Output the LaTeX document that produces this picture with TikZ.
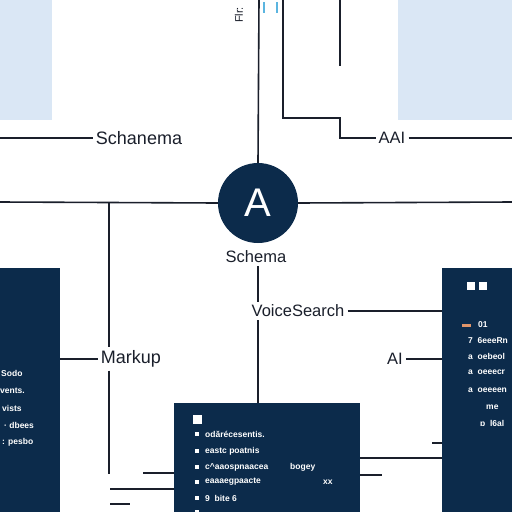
\documentclass[tikz,border=0pt]{standalone}
\usepackage{fontspec}
\setmainfont{Liberation Sans}
\definecolor{navy}{HTML}{0C2B4B}
\definecolor{pale}{HTML}{DAE7F5}
\definecolor{ink}{HTML}{1A1F2B}
\definecolor{sky}{HTML}{5BB5E0}
\definecolor{tan}{HTML}{E0956A}
\begin{document}
\begin{tikzpicture}[x=1pt,y=-1pt,
  conn/.style={draw=ink,line width=1.6pt},
  lbl/.style={font=\fontsize{16.5}{18}\selectfont,text=ink,inner sep=3pt},
  biglbl/.style={lbl,font=\fontsize{18}{20}\selectfont},
  hub/.style={circle,fill=navy,minimum size=80pt,inner sep=0pt,text=white,font=\fontsize{40}{40}\selectfont},
  panel/.style={fill=navy,anchor=north west,inner sep=0pt},
  tiny/.style={font=\fontsize{8.5}{9}\selectfont\bfseries,text=white,anchor=west,inner sep=0pt},
  bul/.style={fill=white,minimum size=4pt,inner sep=0pt},
  sq/.style={fill=white,minimum size=8pt,inner sep=0pt,anchor=north west}]
\useasboundingbox (0,0) rectangle (512,512);
\fill[white] (0,0) rectangle (512,512);
% pale blue blocks
\fill[pale] (0,0) rectangle (52,120);
\fill[pale] (398,0) rectangle (512,120);
% top bits
\node[rotate=90,font=\fontsize{11}{11}\selectfont,text=ink,inner sep=0pt] (glyph) at (239,15) {Flr:};
\draw[sky,line width=1.4pt] (264,2) -- (264,13) (277,2) -- (277,13);
% panels
\node[panel,minimum width=60pt,minimum height=244pt] (lpanel) at (0,268) {};
\node[panel,minimum width=70pt,minimum height=244pt] (rpanel) at (442,268) {};
\node[panel,minimum width=186pt,minimum height=110pt] (bpanel) at (174,403) {};
% labels
\node[hub] (hub) at (258,203) {A};
\node[biglbl] (schanema) at (139,138) {Schanema};
\node[lbl] (aai) at (392,138) {AAI};
\node[lbl] (schema) at (256,257) {Schema};
\node[lbl] (voice) at (298,311) {VoiceSearch};
\node[biglbl] (markup) at (131,359) {Markup};
\node[lbl] (ai) at (395,359) {AI};
% free-end coordinates
\coordinate (t1) at (259,0);
\coordinate (t2) at (283,0);
\coordinate (t3) at (340,0);
\coordinate (t3e) at (340,66);
\coordinate (e1) at (0,138);
\coordinate (e2) at (512,138);
\coordinate (h0) at (0,202);
\coordinate (h1) at (512,202);
\coordinate (vx) at (109,202);
\coordinate (vxe) at (109,474);
% connectors
\draw[conn] (t1) -- (hub.north);
\draw[conn] (t2) |- (340,118) |- (aai.west);
\draw[conn] (aai.east) -- (e2);
\draw[conn] (e1) -- (schanema.west);
\draw[conn] (t3) -- (t3e);
\draw[conn] (h0) -- (hub.west);
\draw[conn] (hub.east) -- (h1);
\draw[conn] (vx) -- (markup.north -| vx);
\draw[conn] (markup.south -| vx) -- (vxe);
\draw[conn] (schema.south -| hub) -- (voice.north -| hub);
\draw[conn] (voice.south -| hub) -- (bpanel.north -| hub);
\draw[conn] (voice.east) -- (voice.east -| rpanel.west);
\draw[conn] (ai.east) -- (ai.east -| rpanel.west);
\draw[conn] (markup.west -| lpanel.east) -- (markup.west);
% bottom stubs
\draw[conn] (143,473) -- (143,473 -| bpanel.west);
\draw[conn] (110,489) -- (110,489 -| bpanel.west);
\draw[conn] (110,504) -- (130,504);
\draw[conn] (bpanel.east |- 0,458) -- (rpanel.west |- 0,458);
\draw[conn] (bpanel.east |- 0,475) -- (382,475);
\draw[conn] (432,443) -- (rpanel.west |- 0,443);
% left panel text
\node[tiny] (l1) at (1,373) {Sodo};
\node[tiny] (l2) at (0,391) {vents.};
\node[tiny] (l3) at (2,408) {vists};
\node[tiny] (l4) at (4,425) {· dbees};
\node[tiny] (l5) at (2,442) {: pesbo};
% right panel contents
\node[sq] (s1) at (467,282) {};
\node[sq] (s2) at (479,282) {};
\fill[tan] (462,324) rectangle (471,327);
\node[tiny] (r0) at (478,325) {01};
\node[tiny] (r1) at (468,341) {7 \ 6eeeRn};
\node[tiny] (r2) at (468,356) {a \ oebeol};
\node[tiny] (r3) at (468,372) {a \ oeeecr};
\node[tiny] (r4) at (468,390) {a \ oeeeen};
\node[tiny] (r5) at (486,407) {me};
\node[tiny] (r6) at (480,423) {ɒ \ l6al};
% bottom panel contents
\node[sq,minimum size=9pt] (s3) at (193,415) {};
\node[bul] (b1) at (197,434) {};
\node[bul] (b2) at (197,451) {};
\node[bul] (b3) at (197,467) {};
\node[bul] (b4) at (197,482) {};
\node[bul] (b5) at (197,498) {};
\node[bul] (b6) at (197,512) {};
\node[tiny] (m1) at (205,434) {odărécesentis.};
\node[tiny] (m2) at (205,451) {eastc poatnis};
\node[tiny] (m3) at (205,467) {c\textasciicircum aaospnaacea};
\node[tiny] (m4) at (205,482) {eaaaegpaacte};
\node[tiny] (m5) at (205,498) {9 \ bite 6};
\node[tiny] (m6) at (290,467) {bogey};
\node[tiny] (m7) at (323,482) {xx};
\end{tikzpicture}
\end{document}
